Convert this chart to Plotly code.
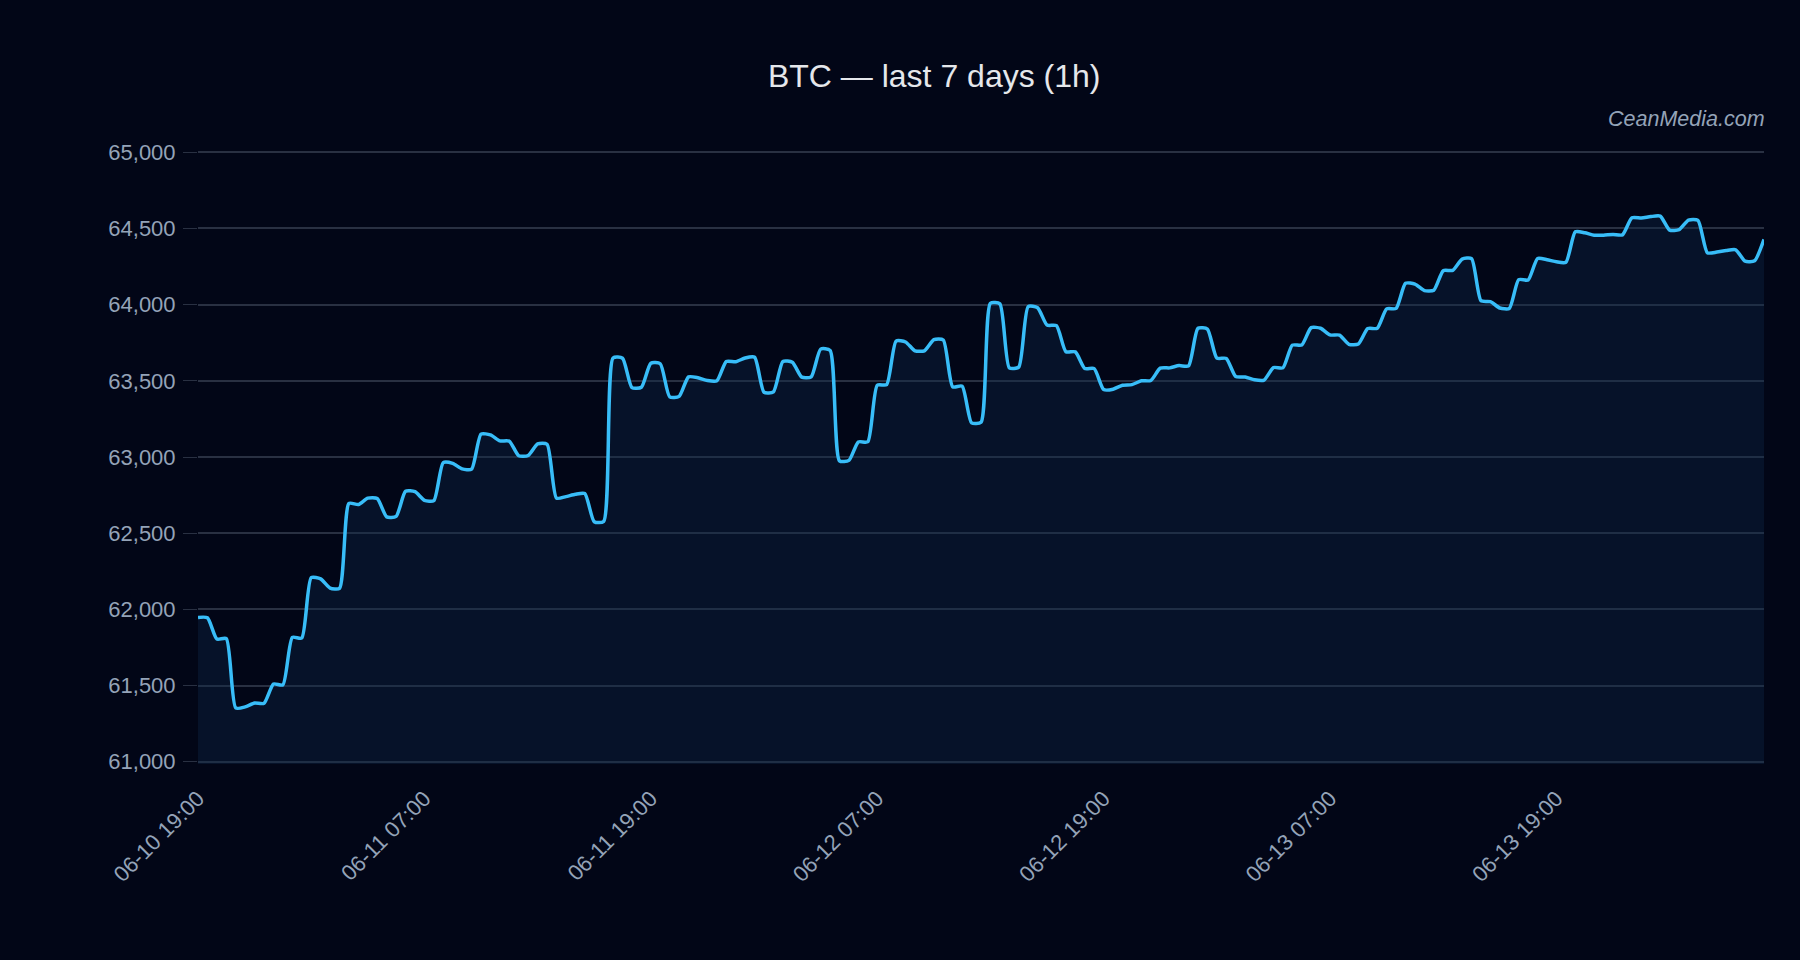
import pandas as pd
import plotly.graph_objects as go

# BTC price, sampled at :00 and :30 of every hour (pairs per line), 06-10 19:00 -> 06-14 06:00
price = [
    61947, 61945,  # 06-10 19h
    61805, 61808,
    61353, 61360,
    61385, 61383,
    61510, 61505,
    61816, 61812,  # 06-11 00h
    62208, 62200,
    62140, 62138,
    62695, 62688,
    62730, 62728,
    62607, 62610,
    62775, 62772,
    62716, 62714,  # 06-11 07h
    62963, 62958,
    62922, 62920,
    63150, 63145,
    63106, 63104,
    63008, 63010,
    63086, 63084,
    62730, 62740,
    62755, 62760,
    62575, 62577,
    63650, 63648,
    63455, 63458,
    63616, 63612,  # 06-11 19h
    63395, 63398,
    63526, 63520,
    63502, 63500,
    63627, 63625,
    63650, 63655,
    63425, 63428,  # 06-12 01h
    63627, 63622,
    63524, 63526,
    63708, 63700,
    62975, 62978,
    63099, 63100,
    63471, 63475,  # 06-12 07h
    63761, 63755,
    63697, 63697,
    63770, 63768,
    63461, 63465,
    63224, 63228,
    64009, 64005,
    63585, 63590,
    63987, 63980,
    63866, 63862,
    63691, 63690,
    63581, 63580,
    63443, 63445,  # 06-12 19h
    63471, 63475,
    63500, 63502,
    63583, 63585,
    63600, 63598,
    63845, 63840,
    63649, 63647,  # 06-13 01h
    63528, 63525,
    63507, 63505,
    63587, 63585,
    63734, 63735,
    63849, 63845,
    63801, 63800,  # 06-13 07h
    63740, 63742,
    63843, 63845,
    63972, 63975,
    64140, 64135,
    64092, 64095,
    64223, 64225,
    64299, 64302,
    64026, 64020,
    63978, 63975,
    64164, 64162,
    64303, 64295,
    64281, 64278,  # 06-13 19h
    64478, 64472,
    64456, 64456,
    64461, 64458,
    64570, 64568,
    64578, 64581,
    64489, 64492,  # 06-14 01h
    64555, 64553,
    64340, 64345,
    64355, 64360,
    64285, 64288,
    64428,         # 06-14 06h
]
start_time = "2024-06-10 19:00"
times = pd.date_range(start_time, periods=len(price), freq="30min")

y_ticks = list(range(61000, 65001, 500))
y_range = [60985, 65015]

title_text = "BTC \u2014 last 7 days (1h)"
watermark = "CeanMedia.com"

BG = "#020617"
GRID = "rgba(148,163,184,0.27)"
FONT = "Liberation Sans"

fig = go.Figure()
fig.add_trace(go.Scatter(
    x=times, y=price, mode="lines",
    line=dict(color="#38bdf8", width=3.5, shape="spline", smoothing=0.6),
    fill="tozeroy", fillcolor="rgba(14,42,74,0.35)",
    hoverinfo="x+y", showlegend=False,
))

fig.update_layout(
    width=1800, height=960,
    paper_bgcolor=BG, plot_bgcolor=BG,
    margin=dict(l=198, r=36, t=150.4, b=196.1),
    font=dict(family=FONT, color="#94a3b8", size=22),
    title=dict(text=title_text, x=0.519, xanchor="center", y=0.921, yanchor="middle",
               font=dict(family=FONT, size=32, color="#e5e7eb")),
    showlegend=False,
)
fig.update_xaxes(
    type="date", tick0=start_time, dtick=12 * 3600 * 1000,
    tickformat="%m-%d %H:%M", tickangle=-45,
    showgrid=False, zeroline=False, showline=False,
    ticks="outside", ticklen=12, tickcolor=BG,
    tickfont=dict(size=22, color="#94a3b8"),
)
fig.update_yaxes(
    range=y_range, tickvals=y_ticks, tickformat=",",
    showgrid=True, gridcolor=GRID, gridwidth=1.5,
    zeroline=False, showline=False,
    ticks="outside", ticklen=14, tickcolor=GRID,
    ticklabelstandoff=3,
    tickfont=dict(size=22, color="#94a3b8"),
)
fig.add_annotation(
    text="<i>" + watermark + "</i>", xref="paper", yref="paper", x=1.002, y=1.0505,
    xanchor="right", yanchor="middle", showarrow=False,
    font=dict(family=FONT, size=21.5, color="#94a3b8"),
)
fig.write_html("out.html")
